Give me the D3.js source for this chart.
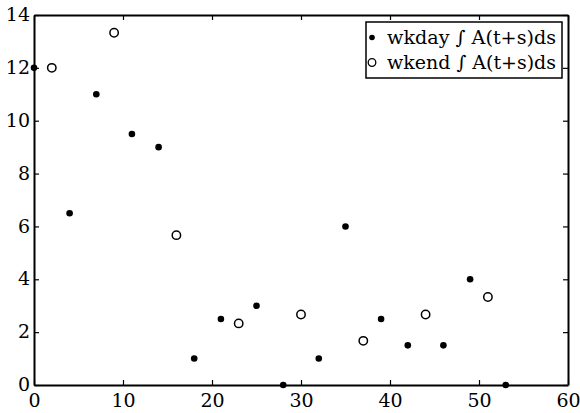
<!DOCTYPE html>
<html>
<head>
<meta charset="utf-8">
<script src="https://cdn.jsdelivr.net/npm/d3@7"></script>
<style>
  body { margin: 0; background: #fff; }
</style>
</head>
<body>
<div id="chart"></div>
<script>
// weekday points (filled)
var wkdayX = [0, 4, 7, 11, 14, 18, 21, 25, 28, 32, 35, 39, 42, 46, 49, 53];
var wkdayY = [12, 6.5, 11, 9.5, 9, 1, 2.5, 3, 0, 1, 6, 2.5, 1.5, 1.5, 4, 0];
// weekend points (open)
var wkendX = [2, 9, 16, 23, 30, 37, 44, 51];
var wkendY = [12, 13.33, 5.67, 2.33, 2.67, 1.67, 2.67, 3.33];

var xTicks = [0, 10, 20, 30, 40, 50, 60];
var yTicks = [0, 2, 4, 6, 8, 10, 12, 14];
var legendLabels = ["wkday \u222B A(t+s)ds", "wkend \u222B A(t+s)ds"];

var fontFamily = "'DejaVu Serif', serif";

var margin = { top: 15, left: 34, right: 12, bottom: 28 },
  width = 580 - margin.left - margin.right,
  height = 413 - margin.top - margin.bottom;

var svg = d3.select("#chart")
  .append("svg")
  .attr("width", 580)
  .attr("height", 413)
  .append("g")
  .attr("transform", "translate(" + margin.left + "," + margin.top + ")");

var xScale = d3.scaleLinear().domain([0, 60]).range([0, width]);
var yScale = d3.scaleLinear().domain([0, 14]).range([height, 0]);

// axes, ticks pointing inward on all four sides
svg.append("g")
  .attr("class", "axis x-axis")
  .attr("transform", "translate(0," + height + ")")
  .call(d3.axisBottom(xScale).tickValues(xTicks).tickSize(-5).tickPadding(9).tickSizeOuter(0));

svg.append("g")
  .attr("class", "axis top-axis")
  .call(d3.axisTop(xScale).tickValues(xTicks).tickSize(-5).tickFormat("").tickSizeOuter(0));

svg.append("g")
  .attr("class", "axis y-axis")
  .call(d3.axisLeft(yScale).tickValues(yTicks).tickSize(-5).tickPadding(4).tickSizeOuter(0));

svg.append("g")
  .attr("class", "axis right-axis")
  .attr("transform", "translate(" + width + ",0)")
  .call(d3.axisRight(yScale).tickValues(yTicks).tickSize(-5).tickFormat("").tickSizeOuter(0));

svg.selectAll(".axis .domain").attr("stroke", "#000").attr("stroke-width", 2);
svg.selectAll(".axis .tick line").attr("stroke", "#000").attr("stroke-width", 1.2);
svg.selectAll(".axis text")
  .attr("fill", "#000")
  .style("font-family", fontFamily)
  .style("font-size", "19px");
svg.selectAll(".y-axis text").attr("dy", "0.3em");

var wkday = wkdayX.map(function(x, i) { return { x: x, y: wkdayY[i] } });
var wkend = wkendX.map(function(x, i) { return { x: x, y: wkendY[i] } });

svg.selectAll(".wkday")
  .data(wkday)
  .enter().append("circle")
  .attr("class", "wkday")
  .attr("cx", function(d) { return xScale(d.x) })
  .attr("cy", function(d) { return yScale(d.y) })
  .attr("r", 3.3)
  .attr("fill", "#000");

svg.selectAll(".wkend")
  .data(wkend)
  .enter().append("circle")
  .attr("class", "wkend")
  .attr("cx", function(d) { return xScale(d.x) })
  .attr("cy", function(d) { return yScale(d.y) })
  .attr("r", 4.2)
  .attr("fill", "#fff")
  .attr("stroke", "#000")
  .attr("stroke-width", 1.5);

// legend
var legend = svg.append("g")
  .attr("transform", "translate(" + (width - 202) + ",7)");

legend.append("rect")
  .attr("width", 196)
  .attr("height", 56)
  .attr("fill", "#fff")
  .attr("stroke", "#000")
  .attr("stroke-width", 1.5);

legend.append("circle")
  .attr("cx", 6).attr("cy", 15.5).attr("r", 2.8).attr("fill", "#000");
legend.append("circle")
  .attr("cx", 6).attr("cy", 40.5).attr("r", 3.8)
  .attr("fill", "#fff").attr("stroke", "#000").attr("stroke-width", 1.3);

legend.selectAll(".label")
  .data(legendLabels)
  .enter().append("text")
  .attr("class", "label")
  .attr("x", 21)
  .attr("y", function(d, i) { return 15.5 + i * 25 })
  .attr("dy", "0.32em")
  .style("font-family", fontFamily)
  .style("font-size", "19px")
  .attr("textLength", 169)
  .attr("lengthAdjust", "spacingAndGlyphs")
  .text(function(d) { return d });
</script>
</body>
</html>
